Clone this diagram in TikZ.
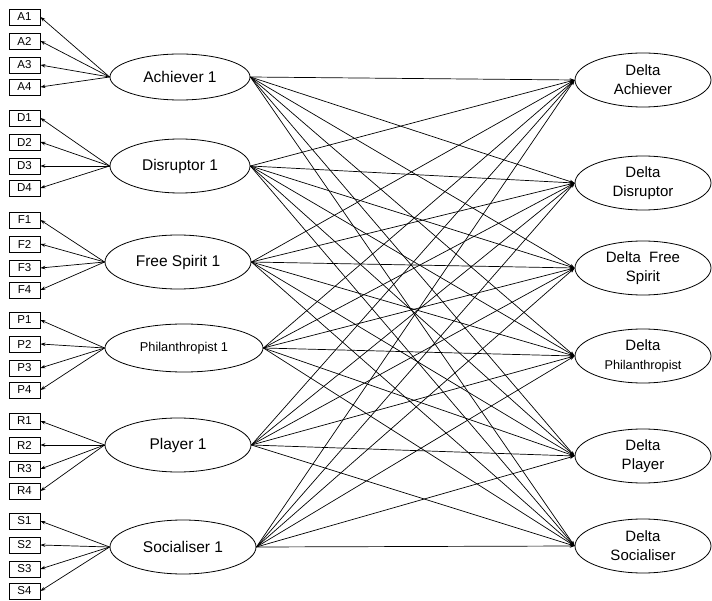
\documentclass[tikz,border=0pt]{standalone}
\usepackage{fontspec}
\setmainfont{Liberation Sans}
\usetikzlibrary{shapes.geometric,arrows.meta}
\begin{document}
\begin{tikzpicture}[x=1pt,y=-1pt,
  ind/.style={draw,rectangle,minimum width=31pt,minimum height=16pt,inner sep=0pt,font=\fontsize{11.5}{12}\selectfont,line width=0.8pt},
  lat/.style={draw,ellipse,inner sep=0pt,font=\fontsize{15.5}{18}\selectfont,line width=0.8pt},
  dlt/.style={draw,ellipse,inner sep=0pt,minimum width=136pt,minimum height=54pt,align=center,font=\fontsize{15}{19}\selectfont,line width=0.8pt},
  con/.style={-{Stealth[length=5pt,width=3.5pt]},line width=0.7pt}]
\useasboundingbox (0,0) rectangle (712,601);
% left latent variables
\node[lat,minimum width=140pt,minimum height=46pt] (L1) at (180,77) {Achiever 1};
\node[lat,minimum width=140pt,minimum height=54pt] (L2) at (180,166) {Disruptor 1};
\node[lat,minimum width=146pt,minimum height=54pt] (L3) at (178,262) {Free Spirit 1};
\node[lat,minimum width=158pt,minimum height=48pt,font=\fontsize{12.8}{15}\selectfont] (L4) at (184,348) {Philanthropist 1};
\node[lat,minimum width=146pt,minimum height=54pt] (L5) at (178,445) {Player 1};
\node[lat,minimum width=146pt,minimum height=54pt] (L6) at (183,547) {Socialiser 1};
% right latent variables
\node[dlt] (T1) at (643,80) {Delta\\Achiever};
\node[dlt] (T2) at (643,183) {Delta\\Disruptor};
\node[dlt] (T3) at (643,268) {Delta~ Free\\Spirit};
\node[dlt] (T4) at (643,356) {Delta\\{\fontsize{12.7}{15}\selectfont Philanthropist}};
\node[dlt] (T5) at (643,456) {Delta\\Player};
\node[dlt] (T6) at (643,546) {Delta\\Socialiser};
% indicators
\foreach \g/\base [count=\k] in {A/17,D/118,F/220,P/320,R/421,S/521}{
  \foreach \i/\off in {1/0,2/24,3/48,4/70}{
    \node[ind] (\g\i) at (24.5,\base+\off) {\g\i};
    \draw[con] (L\k.west) -- (\g\i.east);
  }
}
% structural paths
\foreach \a in {1,...,6}{
  \foreach \b in {1,...,6}{
    \draw[con] (L\a.east) -- (T\b.west);
  }
}
\end{tikzpicture}
\end{document}
